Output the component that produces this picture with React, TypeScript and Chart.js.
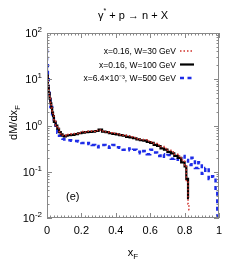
import React, { useEffect, useRef } from "react";
import { Chart, registerables } from "chart.js";

Chart.register(...registerables);

// W = 30 GeV (red dotted)
const xRed = [0, 0.005, 0.01, 0.015, 0.02, 0.025, 0.03, 0.035, 0.04, 0.05, 0.06, 0.07, 0.08, 0.09, 0.1, 0.11, 0.12, 0.14, 0.16, 0.18, 0.2, 0.22, 0.24, 0.26, 0.28, 0.3, 0.32, 0.34, 0.36, 0.38, 0.4, 0.42, 0.44, 0.46, 0.48, 0.5, 0.52, 0.54, 0.56, 0.58, 0.6, 0.62, 0.64, 0.66, 0.68, 0.7, 0.72, 0.74, 0.76, 0.78, 0.8, 0.81, 0.82, 0.825, 0.83];
const yRed = [19, 11, 7.5, 5, 3.9, 3.1, 2.4, 1.9, 1.6, 1.25, 1.0, 0.86, 0.74, 0.66, 0.62, 0.6, 0.62, 0.64, 0.66, 0.67, 0.7, 0.74, 0.72, 0.76, 0.75, 0.78, 0.8, 0.76, 0.73, 0.7, 0.68, 0.66, 0.63, 0.62, 0.6, 0.57, 0.55, 0.52, 0.5, 0.49, 0.46, 0.44, 0.41, 0.38, 0.35, 0.32, 0.29, 0.27, 0.24, 0.22, 0.18, 0.14, 0.06, 0.02, 0.015];

// W = 100 GeV (black solid)
const xBlack = [0, 0.005, 0.01, 0.015, 0.02, 0.025, 0.03, 0.035, 0.04, 0.05, 0.06, 0.07, 0.08, 0.09, 0.1, 0.11, 0.12, 0.14, 0.16, 0.18, 0.2, 0.22, 0.24, 0.26, 0.28, 0.3, 0.32, 0.34, 0.36, 0.38, 0.4, 0.42, 0.44, 0.46, 0.48, 0.5, 0.52, 0.54, 0.56, 0.58, 0.6, 0.62, 0.64, 0.66, 0.68, 0.7, 0.72, 0.74, 0.76, 0.78, 0.8, 0.81, 0.82, 0.825];
const yBlack = [20, 12, 7, 5, 3.8, 3.0, 2.4, 1.9, 1.6, 1.2, 1.0, 0.85, 0.72, 0.64, 0.6, 0.58, 0.6, 0.62, 0.63, 0.65, 0.68, 0.7, 0.72, 0.73, 0.74, 0.76, 0.82, 0.74, 0.72, 0.68, 0.66, 0.64, 0.62, 0.6, 0.57, 0.55, 0.53, 0.5, 0.48, 0.47, 0.44, 0.42, 0.38, 0.36, 0.32, 0.3, 0.27, 0.25, 0.22, 0.2, 0.16, 0.13, 0.07, 0.027];

// W = 500 GeV (blue dashed)
const xBlue = [0, 0.005, 0.01, 0.015, 0.02, 0.03, 0.04, 0.05, 0.06, 0.07, 0.08, 0.09, 0.1, 0.12, 0.14, 0.16, 0.18, 0.2, 0.22, 0.24, 0.26, 0.28, 0.3, 0.32, 0.34, 0.36, 0.38, 0.4, 0.42, 0.44, 0.46, 0.48, 0.5, 0.52, 0.54, 0.56, 0.58, 0.6, 0.62, 0.64, 0.66, 0.68, 0.7, 0.72, 0.74, 0.76, 0.78, 0.8, 0.82, 0.84, 0.86, 0.88, 0.9, 0.92, 0.94, 0.96, 0.98, 0.99, 1.0];
const yBlue = [45, 20, 10, 6, 4, 2.5, 1.6, 1.1, 0.85, 0.7, 0.6, 0.55, 0.52, 0.5, 0.48, 0.47, 0.46, 0.45, 0.42, 0.4, 0.42, 0.38, 0.34, 0.36, 0.38, 0.35, 0.33, 0.38, 0.34, 0.33, 0.3, 0.32, 0.29, 0.3, 0.27, 0.25, 0.28, 0.24, 0.3, 0.26, 0.22, 0.24, 0.21, 0.23, 0.19, 0.2, 0.17, 0.22, 0.18, 0.14, 0.2, 0.12, 0.16, 0.09, 0.12, 0.07, 0.08, 0.04, 0.01];

const xTicks = [0, 0.2, 0.4, 0.6, 0.8, 1];
const xTickLabels = ["0", "0.2", "0.4", "0.6", "0.8", "1"];
const yDecades = [-2, -1, 0, 1, 2];
const legendLabels = ["x=0.16, W=30 GeV", "x=0.16, W=100 GeV", "x=6.4×10⁻³, W=500 GeV"];

const FONT = "'Liberation Sans', Arial, sans-serif";

const pts = (xs: number[], ys: number[]) => xs.map((x, i) => ({ x, y: ys[i] }));

export default function App() {
  const ref = useRef<HTMLCanvasElement>(null);

  useEffect(() => {
    const canvas = ref.current!;
    const decor = {
      id: "decor",
      afterDraw(chart: any) {
        const { ctx, chartArea: a, scales } = chart;
        const xs = scales.x;
        const ys = scales.y;
        ctx.save();
        // frame
        ctx.strokeStyle = "#888";
        ctx.lineWidth = 1;
        ctx.strokeRect(a.left + 0.5, a.top + 0.5, a.right - a.left - 1, a.bottom - a.top - 1);
        // x ticks
        ctx.beginPath();
        for (let i = 0; i <= 50; i++) {
          const v = i / 50;
          const px = Math.round(xs.getPixelForValue(v)) + 0.5;
          const len = i % 10 === 0 ? 5 : 2.5;
          ctx.moveTo(px, a.bottom);
          ctx.lineTo(px, a.bottom - len);
          ctx.moveTo(px, a.top);
          ctx.lineTo(px, a.top + len);
        }
        // y ticks
        for (const d of yDecades) {
          for (let m = 1; m <= 9; m++) {
            if (d === 2 && m > 1) break;
            const v = m * Math.pow(10, d);
            const py = Math.round(ys.getPixelForValue(v)) + 0.5;
            const len = m === 1 ? 5 : 2.5;
            ctx.moveTo(a.left, py);
            ctx.lineTo(a.left + len, py);
            ctx.moveTo(a.right, py);
            ctx.lineTo(a.right - len, py);
          }
        }
        ctx.stroke();

        ctx.fillStyle = "#000";
        // x tick labels
        ctx.font = `11px ${FONT}`;
        ctx.textAlign = "center";
        ctx.textBaseline = "alphabetic";
        xTicks.forEach((v, i) => {
          ctx.fillText(xTickLabels[i], xs.getPixelForValue(v), a.bottom + 16);
        });
        // y tick labels 10^d
        yDecades.forEach((d) => {
          const py = ys.getPixelForValue(Math.pow(10, d));
          const sup = String(d);
          ctx.font = `8px ${FONT}`;
          const sw = ctx.measureText(sup).width;
          ctx.textAlign = "right";
          ctx.fillText(sup, a.left - 5, py - 1);
          ctx.font = `11px ${FONT}`;
          ctx.fillText("10", a.left - 5 - sw, py + 4);
        });
        // title
        const tx = (a.left + a.right) / 2;
        ctx.font = `11px ${FONT}`;
        const t1 = "γ";
        const t2 = " + p → n + X";
        const w1 = ctx.measureText(t1).width;
        ctx.font = `7px ${FONT}`;
        const ws = ctx.measureText("*").width;
        ctx.font = `11px ${FONT}`;
        const w2 = ctx.measureText(t2).width;
        const total = w1 + ws + w2;
        let cx = tx - total / 2;
        ctx.textAlign = "left";
        ctx.fillText(t1, cx, 19);
        cx += w1;
        ctx.font = `7px ${FONT}`;
        ctx.fillText("*", cx, 13);
        cx += ws;
        ctx.font = `11px ${FONT}`;
        ctx.fillText(t2, cx, 19);
        // x axis title
        ctx.font = `11px ${FONT}`;
        const xw = ctx.measureText("x").width;
        ctx.font = `8px ${FONT}`;
        const fw = ctx.measureText("F").width;
        const xx = tx - (xw + fw) / 2;
        ctx.font = `11px ${FONT}`;
        ctx.fillText("x", xx, a.bottom + 22 + 16);
        ctx.font = `8px ${FONT}`;
        ctx.fillText("F", xx + xw, a.bottom + 22 + 19);
        // y axis title
        ctx.save();
        ctx.translate(17, (a.top + a.bottom) / 2);
        ctx.rotate(-Math.PI / 2);
        ctx.font = `11px ${FONT}`;
        const yw = ctx.measureText("dM/dx").width;
        ctx.font = `8px ${FONT}`;
        const yfw = ctx.measureText("F").width;
        const y0 = -(yw + yfw) / 2 + 3;
        ctx.font = `11px ${FONT}`;
        ctx.textAlign = "left";
        ctx.fillText("dM/dx", y0, 0);
        ctx.font = `8px ${FONT}`;
        ctx.fillText("F", y0 + yw, 3);
        ctx.restore();
        // (e)
        ctx.font = `11px ${FONT}`;
        ctx.textAlign = "center";
        ctx.fillText("(e)", xs.getPixelForValue(0.15), ys.getPixelForValue(0.025));
        // legend
        const styles = chart.data.datasets;
        ctx.font = `8.5px ${FONT}`;
        ctx.textAlign = "right";
        const rowsY = [51, 64.5, 78];
        legendLabels.forEach((lab, i) => {
          ctx.fillStyle = "#000";
          ctx.fillText(lab, a.right - 43, rowsY[i] + 3);
          const ds = styles[i];
          ctx.beginPath();
          ctx.strokeStyle = ds.borderColor;
          ctx.lineWidth = ds.borderWidth;
          ctx.setLineDash(ds.borderDash || []);
          ctx.moveTo(a.right - 39, rowsY[i]);
          ctx.lineTo(a.right - 25, rowsY[i]);
          ctx.stroke();
          ctx.setLineDash([]);
        });
        ctx.restore();
      },
    };

    const chart = new Chart(canvas, {
      type: "line",
      data: {
        datasets: [
          {
            label: legendLabels[0],
            data: pts(xRed, yRed),
            borderColor: "#d0302a",
            borderWidth: 1.5,
            borderDash: [1.5, 2],
            stepped: "after",
            pointRadius: 0,
            fill: false,
          },
          {
            label: legendLabels[1],
            data: pts(xBlack, yBlack),
            borderColor: "#000",
            borderWidth: 2.2,
            stepped: "after",
            pointRadius: 0,
            fill: false,
          },
          {
            label: legendLabels[2],
            data: pts(xBlue, yBlue),
            borderColor: "#1f2de8",
            borderWidth: 2.5,
            borderDash: [4, 3.5],
            stepped: "after",
            pointRadius: 0,
            fill: false,
          },
        ] as any,
      },
      options: {
        responsive: false,
        animation: false,
        layout: { padding: { left: 47, right: 21, top: 33, bottom: 48 } },
        plugins: { legend: { display: false }, tooltip: { enabled: false }, title: { display: false } },
        scales: {
          x: { type: "linear", min: 0, max: 1, display: false },
          y: { type: "logarithmic", min: 0.01, max: 100, display: false },
        },
      },
      plugins: [decor],
    } as any);
    return () => chart.destroy();
  }, []);

  return (
    <div style={{ position: "fixed", left: 0, top: 0, width: 240, height: 266, background: "#fff" }}>
      <canvas ref={ref} width={240} height={266} />
    </div>
  );
}
